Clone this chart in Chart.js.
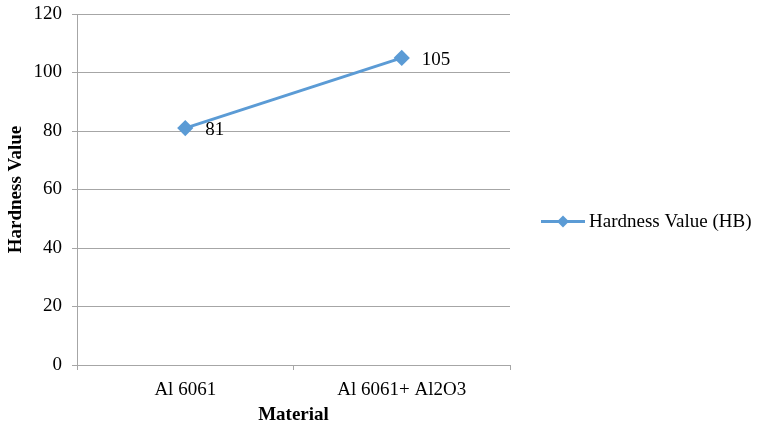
<!DOCTYPE html>
<html>
<head>
<meta charset="utf-8">
<script src="https://cdn.jsdelivr.net/npm/chart.js@4.4.1/dist/chart.umd.min.js"></script>
<style>
  html, body { margin: 0; padding: 0; background: #fff; }
  #wrap { width: 758px; height: 426px; }
</style>
</head>
<body>
<div id="wrap"><canvas id="hardnessChart" width="758" height="426"></canvas></div>
<script>
const materials = ['Al 6061', 'Al 6061+ Al2O3'];
const hardness = [81, 105];
const seriesName = 'Hardness Value (HB)';
const yTicks = [0, 20, 40, 60, 80, 100, 120];

const blue = '#5b9bd5';
const grid = '#a6a6a6';
const serif = '"Liberation Serif", "Times New Roman", serif';

// values written to the right of each point
const pointLabels = {
    id: 'pointLabels',
    afterDatasetsDraw(chart) {
        const ctx = chart.ctx;
        const meta = chart.getDatasetMeta(0);
        ctx.save();
        ctx.font = '19px ' + serif;
        ctx.fillStyle = '#000';
        ctx.textAlign = 'left';
        ctx.textBaseline = 'middle';
        meta.data.forEach((pt, i) => {
            ctx.fillText(String(hardness[i]), pt.x + 20, pt.y + 2);
        });
        ctx.restore();
    }
};

// legend on the right: line with a diamond, then the series name
const sideLegend = {
    id: 'sideLegend',
    afterDraw(chart) {
        const ctx = chart.ctx;
        const area = chart.chartArea;
        const x = area.right + 31;
        const y = (area.top + area.bottom) / 2 + 32;
        ctx.save();
        ctx.strokeStyle = blue;
        ctx.lineWidth = 3;
        ctx.beginPath(); ctx.moveTo(x, y); ctx.lineTo(x + 44, y); ctx.stroke();
        ctx.fillStyle = blue;
        ctx.beginPath();
        ctx.moveTo(x + 22, y - 6); ctx.lineTo(x + 28, y); ctx.lineTo(x + 22, y + 6); ctx.lineTo(x + 16, y);
        ctx.closePath(); ctx.fill();
        ctx.fillStyle = '#000';
        ctx.font = '19px ' + serif;
        ctx.textBaseline = 'middle';
        ctx.fillText(seriesName, x + 48, y + 1);
        ctx.restore();
    }
};

new Chart(document.getElementById('hardnessChart'), {
    type: 'line',
    data: {
        labels: materials,
        datasets: [{
            label: seriesName,
            data: hardness,
            borderColor: blue,
            backgroundColor: blue,
            borderWidth: 3,
            pointStyle: 'rectRot',
            pointRadius: 6,
            pointHoverRadius: 6,
            tension: 0
        }]
    },
    options: {
        responsive: false,
        animation: false,
        layout: { padding: { top: 14, right: 248, left: 0, bottom: 0 } },
        plugins: {
            tooltip: { enabled: false },
            legend: { display: false }
        },
        scales: {
            x: {
                offset: true,
                grid: { offset: true, drawOnChartArea: false, drawTicks: true, tickLength: 5, color: grid },
                border: { color: grid },
                ticks: { color: '#000', font: { family: serif, size: 19 }, padding: 9 },
                title: { display: true, text: 'Material', color: '#000', font: { family: serif, size: 19, weight: 'bold' }, padding: { top: 0, bottom: 0 } },
                afterFit: s => { s.height = 61; s.paddingLeft = 0; s.paddingRight = 0; }
            },
            y: {
                min: 0,
                max: 120,
                afterBuildTicks: s => { s.ticks = yTicks.map(v => ({ value: v })); },
                grid: { color: grid, tickLength: 5 },
                border: { color: grid },
                ticks: { color: '#000', font: { family: serif, size: 19 }, padding: 10 },
                title: { display: true, text: 'Hardness Value', color: '#000', font: { family: serif, size: 19, weight: 'bold' }, padding: { top: 5, bottom: 4 } },
                afterFit: s => { s.width = 77; s.paddingTop = 0; s.paddingBottom = 0; }
            }
        }
    },
    plugins: [pointLabels, sideLegend]
});
</script>
</body>
</html>
